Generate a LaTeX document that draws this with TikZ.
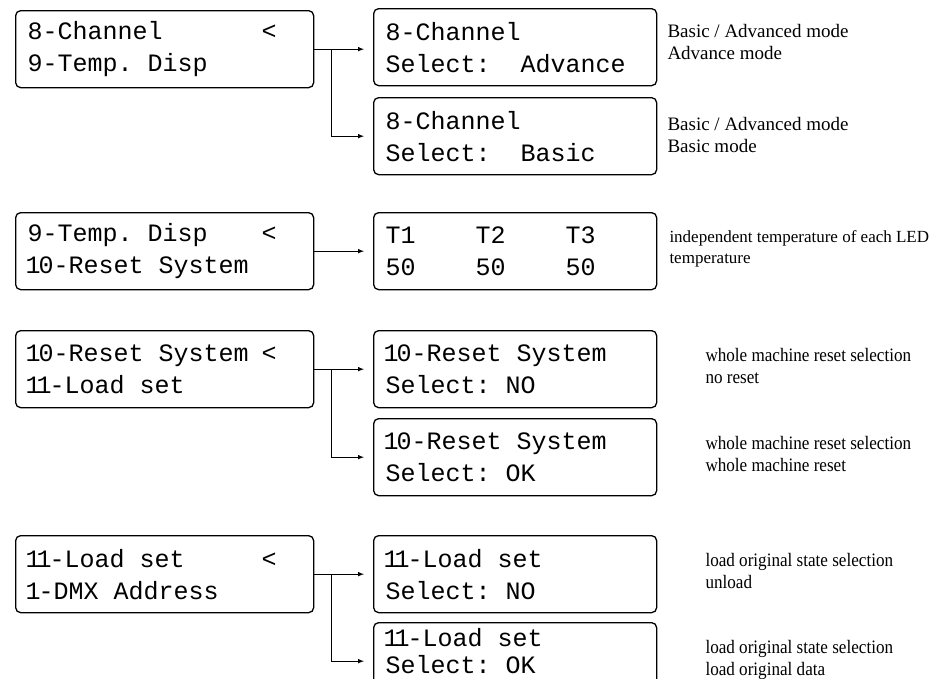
\documentclass[tikz,border=0pt]{standalone}
\usepackage{fontspec}
\usepackage{graphicx}
\setmainfont{Liberation Serif}
\newfontfamily\lcdfont{Liberation Mono}
\usetikzlibrary{calc}
\tikzstyle{lcd}=[draw, line width=1.3pt, rounded corners=5pt, anchor=north west, inner xsep=12pt, inner ysep=0pt, align=left, font=\lcdfont\fontsize{25}{32}\selectfont]
\tikzstyle{menu}=[lcd, text width=274pt, minimum height=77pt]
\tikzstyle{pick}=[lcd, text width=259pt, minimum height=77pt]
\tikzstyle{note}=[anchor=north west, align=left, inner sep=0pt, font=\fontsize{19}{22}\selectfont]
\tikzstyle{link}=[line width=1pt, -latex, shorten >=9pt]
\newcommand{\cursorline}[1]{\makebox[234pt][l]{#1}<}
\newcommand{\blank}[1]{\phantom{#1}}
\newcommand{\one}{\makebox[0.44em]{1}}
\newcommand{\narrow}[1]{\scalebox{0.9}[1]{#1}}

\begin{document}
\begin{tikzpicture}[x=1pt,y=-1pt]
\useasboundingbox (0,0) rectangle (931,678);
% 8-Channel
\node[menu] (ch) at (15,10) {\cursorline{8-Channel}\\9-Temp.\blank{0}Disp};
\node[pick] (chA) at (373,8) {8-Channel\\Select:\blank{00}Advance};
\node[pick] (chB) at (373,97) {8-Channel\\Select:\blank{00}Basic};
\coordinate (chJ) at ($(ch.east)+(17,0)$);
\draw[link] (ch.east) -- (chA.west |- ch.east);
\draw[link] (chJ) |- (chB.west);
\node[note] at ($(chA.north east)+(10,16)$) {Basic / Advanced mode\\Advance mode};
\node[note] at ($(chB.north east)+(10,20)$) {Basic / Advanced mode\\Basic mode};
% 9-Temp. Disp
\node[menu] (tp) at (15,212) {\cursorline{9-Temp.\blank{0}Disp}\\\one0-Reset\blank{0}System};
\node[pick] (tpV) at (373,212) {T1\blank{0000}T2\blank{0000}T3\\50\blank{0000}50\blank{0000}50};
\draw[link] (tp.east) -- (tpV.west);
\node[note, font=\fontsize{17}{21}\selectfont] at ($(tpV.north east)+(12,18)$) {independent temperature of each LED\\temperature};
% 10-Reset System
\node[menu] (rs) at (15,330) {\cursorline{\one0-Reset\blank{0}System}\\\one\one-Load\blank{0}set};
\node[pick] (rsN) at (373,330) {\one0-Reset\blank{0}System\\Select:\blank{0}NO};
\node[pick] (rsK) at (373,418) {\one0-Reset\blank{0}System\\Select:\blank{0}OK};
\coordinate (rsJ) at ($(rs.east)+(17,0)$);
\draw[link] (rs.east) -- (rsN.west);
\draw[link] (rsJ) |- (rsK.west);
\node[note] at ($(rsN.north east)+(48,18)$) {\narrow{whole machine reset selection}\\\narrow{no reset}};
\node[note] at ($(rsK.north east)+(48,18)$) {\narrow{whole machine reset selection}\\\narrow{whole machine reset}};
% 11-Load set
\node[menu] (ld) at (15,535) {\cursorline{\one\one-Load\blank{0}set}\\\one-DMX\blank{0}Address};
\node[pick] (ldN) at (373,535) {\one\one-Load\blank{0}set\\Select:\blank{0}NO};
\node[pick, font=\lcdfont\fontsize{25}{27}\selectfont, text depth=47pt] (ldK) at (373,622) {\one\one-Load\blank{0}set\\Select:\blank{0}OK};
\coordinate (ldJ) at ($(ld.east)+(17,0)$);
\draw[link] (ld.east) -- (ldN.west);
\draw[link] (ldJ) |- (ldK.west);
\node[note] at ($(ldN.north east)+(48,18)$) {\narrow{load original state selection}\\\narrow{unload}};
\node[note] at ($(ldK.north east)+(48,18)$) {\narrow{load original state selection}\\\narrow{load original data}};
\end{tikzpicture}
\end{document}
